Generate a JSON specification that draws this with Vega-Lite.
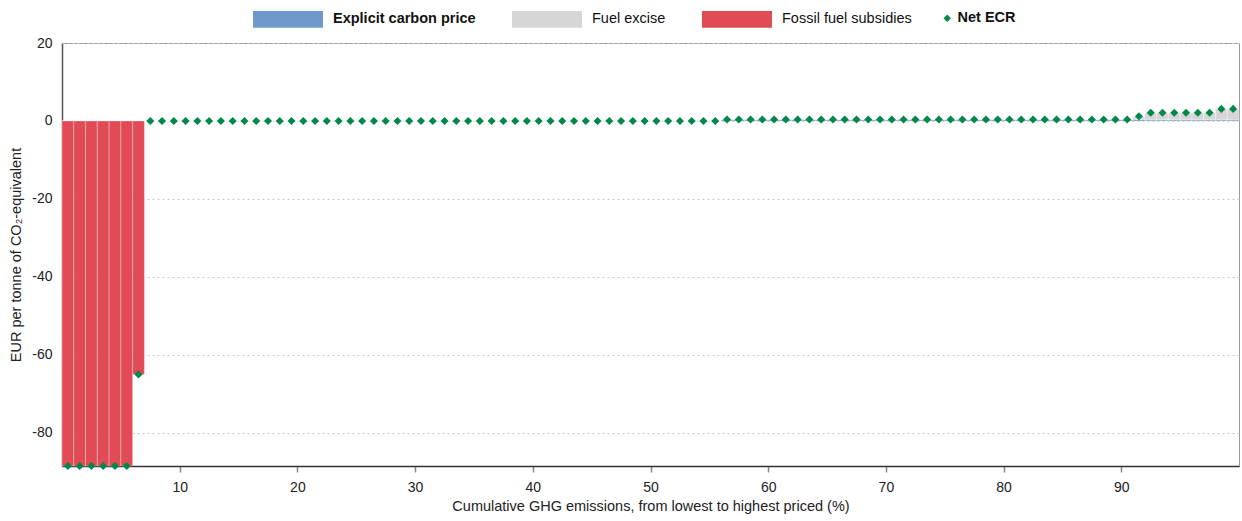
{
  "$schema": "https://vega.github.io/schema/vega-lite/v6.json",
  "width": 1177,
  "height": 423,
  "autosize": {"type": "none"},
  "padding": {"left": 62, "top": 43, "right": 3, "bottom": 55},
  "background": "white",
  "config": {
    "font": "Liberation Sans",
    "view": {"stroke": "#9a9a9a", "strokeWidth": 1},
    "axis": {"labelColor": "#222", "titleColor": "#222", "labelFontSize": 14, "titleFontSize": 14.5, "titleFontWeight": "normal"}
  },
  "data": {"values": [
    {"lo":0,"hi":1,"mid":0.5,"ecp":0,"fe":0,"ffs":-88.5,"net":-88.5},
    {"lo":1,"hi":2,"mid":1.5,"ecp":0,"fe":0,"ffs":-88.5,"net":-88.5},
    {"lo":2,"hi":3,"mid":2.5,"ecp":0,"fe":0,"ffs":-88.5,"net":-88.5},
    {"lo":3,"hi":4,"mid":3.5,"ecp":0,"fe":0,"ffs":-88.5,"net":-88.5},
    {"lo":4,"hi":5,"mid":4.5,"ecp":0,"fe":0,"ffs":-88.5,"net":-88.5},
    {"lo":5,"hi":6,"mid":5.5,"ecp":0,"fe":0,"ffs":-88.5,"net":-88.5},
    {"lo":6,"hi":7,"mid":6.5,"ecp":0,"fe":0,"ffs":-65,"net":-65},
    {"lo":7,"hi":8,"mid":7.5,"ecp":0,"fe":0,"ffs":0,"net":0},
    {"lo":8,"hi":9,"mid":8.5,"ecp":0,"fe":0,"ffs":0,"net":0},
    {"lo":9,"hi":10,"mid":9.5,"ecp":0,"fe":0,"ffs":0,"net":0},
    {"lo":10,"hi":11,"mid":10.5,"ecp":0,"fe":0,"ffs":0,"net":0},
    {"lo":11,"hi":12,"mid":11.5,"ecp":0,"fe":0,"ffs":0,"net":0},
    {"lo":12,"hi":13,"mid":12.5,"ecp":0,"fe":0,"ffs":0,"net":0},
    {"lo":13,"hi":14,"mid":13.5,"ecp":0,"fe":0,"ffs":0,"net":0},
    {"lo":14,"hi":15,"mid":14.5,"ecp":0,"fe":0,"ffs":0,"net":0},
    {"lo":15,"hi":16,"mid":15.5,"ecp":0,"fe":0,"ffs":0,"net":0},
    {"lo":16,"hi":17,"mid":16.5,"ecp":0,"fe":0,"ffs":0,"net":0},
    {"lo":17,"hi":18,"mid":17.5,"ecp":0,"fe":0,"ffs":0,"net":0},
    {"lo":18,"hi":19,"mid":18.5,"ecp":0,"fe":0,"ffs":0,"net":0},
    {"lo":19,"hi":20,"mid":19.5,"ecp":0,"fe":0,"ffs":0,"net":0},
    {"lo":20,"hi":21,"mid":20.5,"ecp":0,"fe":0,"ffs":0,"net":0},
    {"lo":21,"hi":22,"mid":21.5,"ecp":0,"fe":0,"ffs":0,"net":0},
    {"lo":22,"hi":23,"mid":22.5,"ecp":0,"fe":0,"ffs":0,"net":0},
    {"lo":23,"hi":24,"mid":23.5,"ecp":0,"fe":0,"ffs":0,"net":0},
    {"lo":24,"hi":25,"mid":24.5,"ecp":0,"fe":0,"ffs":0,"net":0},
    {"lo":25,"hi":26,"mid":25.5,"ecp":0,"fe":0,"ffs":0,"net":0},
    {"lo":26,"hi":27,"mid":26.5,"ecp":0,"fe":0,"ffs":0,"net":0},
    {"lo":27,"hi":28,"mid":27.5,"ecp":0,"fe":0,"ffs":0,"net":0},
    {"lo":28,"hi":29,"mid":28.5,"ecp":0,"fe":0,"ffs":0,"net":0},
    {"lo":29,"hi":30,"mid":29.5,"ecp":0,"fe":0,"ffs":0,"net":0},
    {"lo":30,"hi":31,"mid":30.5,"ecp":0,"fe":0,"ffs":0,"net":0},
    {"lo":31,"hi":32,"mid":31.5,"ecp":0,"fe":0,"ffs":0,"net":0},
    {"lo":32,"hi":33,"mid":32.5,"ecp":0,"fe":0,"ffs":0,"net":0},
    {"lo":33,"hi":34,"mid":33.5,"ecp":0,"fe":0,"ffs":0,"net":0},
    {"lo":34,"hi":35,"mid":34.5,"ecp":0,"fe":0,"ffs":0,"net":0},
    {"lo":35,"hi":36,"mid":35.5,"ecp":0,"fe":0,"ffs":0,"net":0},
    {"lo":36,"hi":37,"mid":36.5,"ecp":0,"fe":0,"ffs":0,"net":0},
    {"lo":37,"hi":38,"mid":37.5,"ecp":0,"fe":0,"ffs":0,"net":0},
    {"lo":38,"hi":39,"mid":38.5,"ecp":0,"fe":0,"ffs":0,"net":0},
    {"lo":39,"hi":40,"mid":39.5,"ecp":0,"fe":0,"ffs":0,"net":0},
    {"lo":40,"hi":41,"mid":40.5,"ecp":0,"fe":0,"ffs":0,"net":0},
    {"lo":41,"hi":42,"mid":41.5,"ecp":0,"fe":0,"ffs":0,"net":0},
    {"lo":42,"hi":43,"mid":42.5,"ecp":0,"fe":0,"ffs":0,"net":0},
    {"lo":43,"hi":44,"mid":43.5,"ecp":0,"fe":0,"ffs":0,"net":0},
    {"lo":44,"hi":45,"mid":44.5,"ecp":0,"fe":0,"ffs":0,"net":0},
    {"lo":45,"hi":46,"mid":45.5,"ecp":0,"fe":0,"ffs":0,"net":0},
    {"lo":46,"hi":47,"mid":46.5,"ecp":0,"fe":0,"ffs":0,"net":0},
    {"lo":47,"hi":48,"mid":47.5,"ecp":0,"fe":0,"ffs":0,"net":0},
    {"lo":48,"hi":49,"mid":48.5,"ecp":0,"fe":0,"ffs":0,"net":0},
    {"lo":49,"hi":50,"mid":49.5,"ecp":0,"fe":0,"ffs":0,"net":0},
    {"lo":50,"hi":51,"mid":50.5,"ecp":0,"fe":0,"ffs":0,"net":0},
    {"lo":51,"hi":52,"mid":51.5,"ecp":0,"fe":0,"ffs":0,"net":0},
    {"lo":52,"hi":53,"mid":52.5,"ecp":0,"fe":0,"ffs":0,"net":0},
    {"lo":53,"hi":54,"mid":53.5,"ecp":0,"fe":0,"ffs":0,"net":0},
    {"lo":54,"hi":55,"mid":54.5,"ecp":0,"fe":0,"ffs":0,"net":0},
    {"lo":55,"hi":56,"mid":55.5,"ecp":0,"fe":0,"ffs":0,"net":0},
    {"lo":56,"hi":57,"mid":56.5,"ecp":0.4,"fe":0,"ffs":0,"net":0.4},
    {"lo":57,"hi":58,"mid":57.5,"ecp":0.4,"fe":0,"ffs":0,"net":0.4},
    {"lo":58,"hi":59,"mid":58.5,"ecp":0.4,"fe":0,"ffs":0,"net":0.4},
    {"lo":59,"hi":60,"mid":59.5,"ecp":0.4,"fe":0,"ffs":0,"net":0.4},
    {"lo":60,"hi":61,"mid":60.5,"ecp":0.4,"fe":0,"ffs":0,"net":0.4},
    {"lo":61,"hi":62,"mid":61.5,"ecp":0.4,"fe":0,"ffs":0,"net":0.4},
    {"lo":62,"hi":63,"mid":62.5,"ecp":0.4,"fe":0,"ffs":0,"net":0.4},
    {"lo":63,"hi":64,"mid":63.5,"ecp":0.4,"fe":0,"ffs":0,"net":0.4},
    {"lo":64,"hi":65,"mid":64.5,"ecp":0.4,"fe":0,"ffs":0,"net":0.4},
    {"lo":65,"hi":66,"mid":65.5,"ecp":0.4,"fe":0,"ffs":0,"net":0.4},
    {"lo":66,"hi":67,"mid":66.5,"ecp":0.4,"fe":0,"ffs":0,"net":0.4},
    {"lo":67,"hi":68,"mid":67.5,"ecp":0.4,"fe":0,"ffs":0,"net":0.4},
    {"lo":68,"hi":69,"mid":68.5,"ecp":0.4,"fe":0,"ffs":0,"net":0.4},
    {"lo":69,"hi":70,"mid":69.5,"ecp":0.4,"fe":0,"ffs":0,"net":0.4},
    {"lo":70,"hi":71,"mid":70.5,"ecp":0.4,"fe":0,"ffs":0,"net":0.4},
    {"lo":71,"hi":72,"mid":71.5,"ecp":0.4,"fe":0,"ffs":0,"net":0.4},
    {"lo":72,"hi":73,"mid":72.5,"ecp":0.4,"fe":0,"ffs":0,"net":0.4},
    {"lo":73,"hi":74,"mid":73.5,"ecp":0.4,"fe":0,"ffs":0,"net":0.4},
    {"lo":74,"hi":75,"mid":74.5,"ecp":0.4,"fe":0,"ffs":0,"net":0.4},
    {"lo":75,"hi":76,"mid":75.5,"ecp":0.4,"fe":0,"ffs":0,"net":0.4},
    {"lo":76,"hi":77,"mid":76.5,"ecp":0.4,"fe":0,"ffs":0,"net":0.4},
    {"lo":77,"hi":78,"mid":77.5,"ecp":0.4,"fe":0,"ffs":0,"net":0.4},
    {"lo":78,"hi":79,"mid":78.5,"ecp":0.4,"fe":0,"ffs":0,"net":0.4},
    {"lo":79,"hi":80,"mid":79.5,"ecp":0.4,"fe":0,"ffs":0,"net":0.4},
    {"lo":80,"hi":81,"mid":80.5,"ecp":0.4,"fe":0,"ffs":0,"net":0.4},
    {"lo":81,"hi":82,"mid":81.5,"ecp":0.4,"fe":0,"ffs":0,"net":0.4},
    {"lo":82,"hi":83,"mid":82.5,"ecp":0.4,"fe":0,"ffs":0,"net":0.4},
    {"lo":83,"hi":84,"mid":83.5,"ecp":0.4,"fe":0,"ffs":0,"net":0.4},
    {"lo":84,"hi":85,"mid":84.5,"ecp":0.4,"fe":0,"ffs":0,"net":0.4},
    {"lo":85,"hi":86,"mid":85.5,"ecp":0.4,"fe":0,"ffs":0,"net":0.4},
    {"lo":86,"hi":87,"mid":86.5,"ecp":0.4,"fe":0,"ffs":0,"net":0.4},
    {"lo":87,"hi":88,"mid":87.5,"ecp":0.4,"fe":0,"ffs":0,"net":0.4},
    {"lo":88,"hi":89,"mid":88.5,"ecp":0.4,"fe":0,"ffs":0,"net":0.4},
    {"lo":89,"hi":90,"mid":89.5,"ecp":0.4,"fe":0,"ffs":0,"net":0.4},
    {"lo":90,"hi":91,"mid":90.5,"ecp":0.4,"fe":0,"ffs":0,"net":0.4},
    {"lo":91,"hi":92,"mid":91.5,"ecp":0.4,"fe":0.8,"ffs":0,"net":1.2},
    {"lo":92,"hi":93,"mid":92.5,"ecp":0.3,"fe":1.8,"ffs":0,"net":2.1},
    {"lo":93,"hi":94,"mid":93.5,"ecp":0.3,"fe":1.8,"ffs":0,"net":2.1},
    {"lo":94,"hi":95,"mid":94.5,"ecp":0.3,"fe":1.8,"ffs":0,"net":2.1},
    {"lo":95,"hi":96,"mid":95.5,"ecp":0.3,"fe":1.8,"ffs":0,"net":2.1},
    {"lo":96,"hi":97,"mid":96.5,"ecp":0.3,"fe":1.8,"ffs":0,"net":2.1},
    {"lo":97,"hi":98,"mid":97.5,"ecp":0.3,"fe":1.8,"ffs":0,"net":2.1},
    {"lo":98,"hi":99,"mid":98.5,"ecp":0.3,"fe":2.8,"ffs":0,"net":3.1},
    {"lo":99,"hi":100,"mid":99.5,"ecp":0.3,"fe":2.8,"ffs":0,"net":3.1}
  ]},
  "layer": [
    {
      "transform": [
        {"fold": ["ecp", "fe", "ffs"], "as": ["comp", "val"]},
        {"stack": "val", "groupby": ["lo"], "sort": [{"field": "comp", "order": "ascending"}], "as": ["v0", "v1"], "offset": "zero"}
      ],
      "mark": {"type": "rect", "stroke": "white", "strokeOpacity": 0.3, "strokeWidth": 1},
      "encoding": {
        "x": {"field": "lo", "type": "quantitative",
          "scale": {"domain": [0, 100], "nice": false, "zero": false},
          "axis": {"values": [10, 20, 30, 40, 50, 60, 70, 80, 90], "title": "Cumulative GHG emissions, from lowest to highest priced (%)",
            "grid": false, "tickSize": 6, "tickColor": "#888", "tickWidth": 1.5, "domainColor": "#333", "domainWidth": 1.5,
            "labelPadding": 8, "titlePadding": 5}},
        "x2": {"field": "hi"},
        "y": {"field": "v0", "type": "quantitative",
          "scale": {"domain": [-88.5, 20], "nice": false, "zero": false},
          "axis": {"values": [-80, -60, -40, -20, 0, 20], "title": "EUR per tonne of CO₂-equivalent",
            "labelExpr": "datum.value < 0 ? '-' + abs(datum.value) : '' + datum.value",
            "grid": true, "gridDash": [2, 3], "gridColor": "#c8c8c8", "ticks": false, "labelPadding": 10,
            "domainColor": "#555", "domainWidth": 1.5, "titlePadding": 8}},
        "y2": {"field": "v1"},
        "color": {"field": "comp", "type": "nominal",
          "scale": {"domain": ["ecp", "fe", "ffs"], "range": ["#6f98cb", "#d6d6d6", "#e04b55"]},
          "legend": {"orient": "none", "legendX": 191, "legendY": -59, "direction": "horizontal", "title": null,
            "symbolType": "M-1,-0.24H1V0.24H-1Z", "symbolSize": 4900, "symbolStrokeWidth": 0, "symbolOpacity": 1,
            "labelFontSize": 14.5, "labelColor": "#111", "labelOffset": 10, "columnPadding": 36, "padding": 0,
            "labelFontWeight": {"expr": "datum.value === 'ecp' ? 'bold' : 'normal'"},
            "labelExpr": "datum.value === 'ecp' ? 'Explicit carbon price' : datum.value === 'fe' ? 'Fuel excise' : 'Fossil fuel subsidies'"}}
      }
    },
    {
      "mark": {"type": "point", "shape": "diamond", "filled": true, "color": "#00884a", "size": 65, "opacity": 1},
      "encoding": {
        "x": {"field": "mid", "type": "quantitative"},
        "y": {"field": "net", "type": "quantitative"},
        "shape": {"datum": "Net ECR", "type": "nominal", "scale": {"range": ["diamond"]},
          "legend": {"orient": "none", "legendX": 878, "legendY": -32, "title": null, "padding": 0,
            "symbolFillColor": "#00884a", "symbolStrokeColor": "#00884a", "symbolSize": 55, "symbolStrokeWidth": 0,
            "labelFontSize": 14.5, "labelFontWeight": "bold", "labelColor": "#111", "labelOffset": 3}}
      }
    }
  ]
}
